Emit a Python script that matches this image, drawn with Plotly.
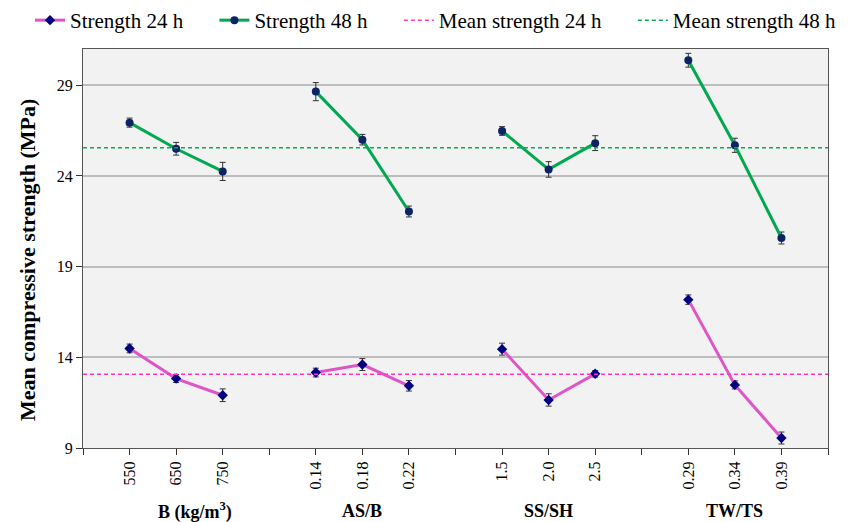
import plotly.graph_objects as go

# ---- data ----
tick_labels = ["", "550", "650", "750", "", "0.14", "0.18", "0.22", "", "1.5", "2.0", "2.5",
               "", "0.29", "0.34", "0.39", ""]
group_labels = ["B (kg/m<sup>3</sup>)", "AS/B", "SS/SH", "TW/TS"]
group_centers = [2.4, 6, 10, 14]
groups_x = [[1, 2, 3], [5, 6, 7], [9, 10, 11], [13, 14, 15]]

s24 = [[14.49, 12.83, 11.91], [13.16, 13.60, 12.43], [14.45, 11.65, 13.09], [17.18, 12.48, 9.55]]
e24 = [[0.24, 0.22, 0.35], [0.24, 0.33, 0.29], [0.33, 0.34, 0.18], [0.26, 0.22, 0.33]]
s48 = [[26.94, 25.50, 24.25], [28.65, 26.00, 22.04], [26.48, 24.36, 25.81], [30.38, 25.69, 20.58]]
e48 = [[0.25, 0.35, 0.50], [0.50, 0.29, 0.30], [0.24, 0.43, 0.41], [0.38, 0.39, 0.33]]
mean24 = 13.06
mean48 = 25.55

PINK = "#DD55C6"
GREEN = "#00A84F"
SERIF = "Liberation Serif"
NB = "\u00a0"

# page has an 8px body margin: figure is sized/offset to compensate
W, H = 842, 514
ML, MR, MT, MB = 75, 22, 41, 74
PW, PH = W - ML - MR, H - MT - MB

fig = go.Figure()

for i, (xs, ys, es) in enumerate(zip(groups_x, s24, e24)):
    fig.add_trace(go.Scatter(
        x=xs, y=ys, mode="lines+markers", name="Strength 24 h" + NB * 5,
        showlegend=(i == 0),
        line=dict(color=PINK, width=3),
        marker=dict(symbol="diamond", size=8, color="#000080"),
        error_y=dict(type="data", array=es, color="#333333", thickness=1, width=3),
    ))
for i, (xs, ys, es) in enumerate(zip(groups_x, s48, e48)):
    fig.add_trace(go.Scatter(
        x=xs, y=ys, mode="lines+markers", name="Strength 48 h" + NB * 5,
        showlegend=(i == 0),
        line=dict(color=GREEN, width=3),
        marker=dict(symbol="circle", size=8, color="#0B2463"),
        error_y=dict(type="data", array=es, color="#333333", thickness=1, width=3),
    ))

fig.add_trace(go.Scatter(
    x=[0, 16], y=[mean24, mean24], mode="lines", name="Mean strength 24 h" + NB * 5,
    line=dict(color="#FF33CC", width=1.5, dash="4px,3px"),
))
fig.add_trace(go.Scatter(
    x=[0, 16], y=[mean48, mean48], mode="lines", name="Mean strength 48 h",
    line=dict(color="#00B050", width=1.5, dash="4px,3px"),
))

for lbl, cx in zip(group_labels, group_centers):
    fig.add_annotation(x=cx, xref="x", y=-0.158, yref="paper", yanchor="middle",
                       text="<b>" + lbl + "</b>", showarrow=False,
                       font=dict(family=SERIF, size=18, color="black"))

fig.add_annotation(x=-0.0752, xref="paper", y=0.471, yref="paper",
                   xanchor="center", yanchor="middle", textangle=-90,
                   text="<b>Mean compressive strength (MPa)</b>", showarrow=False,
                   font=dict(family=SERIF, size=22, color="black"))

fig.update_layout(
    width=W, height=H,
    margin=dict(l=ML, r=MR, t=MT, b=MB, autoexpand=False),
    paper_bgcolor="white",
    plot_bgcolor="#F2F2F2",
    font=dict(family=SERIF, size=16, color="black"),
    showlegend=True,
    legend=dict(orientation="h", x=(22 - ML) / PW, xref="paper",
                y=1 + (MT + 8) / PH, yref="paper",
                yanchor="top", xanchor="left",
                font=dict(family=SERIF, size=21, color="black"),
                bgcolor="rgba(0,0,0,0)", itemwidth=30, traceorder="normal"),
    xaxis=dict(
        range=[0, 16], tickmode="array", tickvals=list(range(17)), ticktext=tick_labels,
        tickangle=-90, ticks="outside", ticklen=6, tickcolor="#333333",
        showgrid=False, zeroline=False,
        showline=True, linecolor="#555555", linewidth=1, mirror=True,
        tickfont=dict(family=SERIF, size=16, color="black"),
    ),
    yaxis=dict(
        range=[9, 31], tickmode="array", tickvals=[9, 14, 19, 24, 29],
        ticks="outside", ticklen=6, tickcolor="#333333",
        showgrid=True, gridcolor="#BDBDBD", gridwidth=1.5, zeroline=False,
        showline=True, linecolor="#555555", linewidth=1, mirror=True,
        tickfont=dict(family=SERIF, size=16, color="black"),
    ),
)

fig.write_html("out.html")
